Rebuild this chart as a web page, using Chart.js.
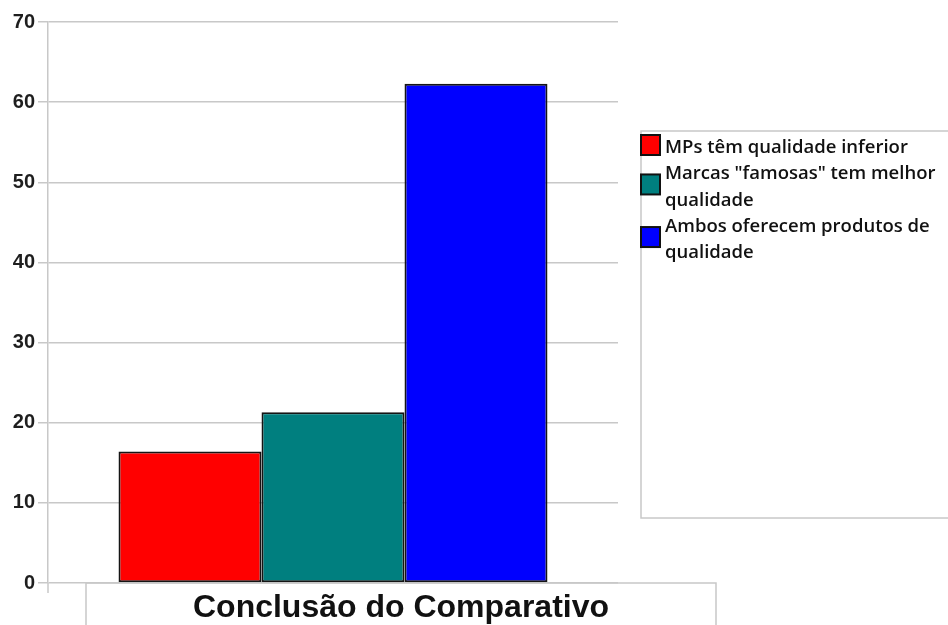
<!DOCTYPE html>
<html>
<head>
<meta charset="utf-8">
<script src="https://cdn.jsdelivr.net/npm/chart.js@4/dist/chart.umd.min.js"></script>
<style>
  html, body { margin: 0; padding: 0; background: #ffffff; }
  #wrap { width: 948px; height: 625px; position: relative; }
</style>
</head>
<body>
<div id="wrap"><canvas id="chart" width="948" height="625"></canvas></div>
<script>
// Category shown under the bars
const categories = ['Conclusão do Comparativo'];

// One series per answer
const seriesLabels = [
  'MPs têm qualidade inferior',
  'Marcas "famosas" tem melhor qualidade',
  'Ambos oferecem produtos de qualidade'
];
const seriesValues = [
  [16.4],
  [21.3],
  [62.3]
];
const seriesColors = ['#ff0000', '#007f7f', '#0000ff'];

// Value axis ticks
const yTicks = [0, 10, 20, 30, 40, 50, 60, 70];

const LEGEND_FONT = '600 18.5px "Open Sans"';

function wrapText(ctx, text, maxWidth) {
  const words = text.split(' ');
  const lines = [];
  let line = '';
  for (const w of words) {
    const test = line ? line + ' ' + w : w;
    if (ctx.measureText(test).width > maxWidth && line) {
      lines.push(line);
      line = w;
    } else {
      line = test;
    }
  }
  if (line) lines.push(line);
  return lines;
}

// Boxed category caption and side legend
const decorations = {
  id: 'decorations',
  afterDraw(chart) {
    const ctx = chart.ctx;
    const area = chart.chartArea;
    ctx.save();

    // small extension of the value axis below zero
    ctx.strokeStyle = '#c8c8c8';
    ctx.lineWidth = 1.5;
    ctx.beginPath();
    ctx.moveTo(area.left, area.bottom);
    ctx.lineTo(area.left, area.bottom + 10);
    ctx.stroke();

    // category caption box
    ctx.fillStyle = '#ffffff';
    ctx.fillRect(86, area.bottom + 1, 630, 50);
    ctx.strokeStyle = '#c8c8c8';
    ctx.lineWidth = 1.5;
    ctx.beginPath();
    ctx.moveTo(86, 640);
    ctx.lineTo(86, area.bottom);
    ctx.lineTo(716, area.bottom);
    ctx.lineTo(716, 640);
    ctx.stroke();
    ctx.fillStyle = '#111111';
    ctx.font = 'bold 32px "Liberation Sans"';
    ctx.textAlign = 'center';
    ctx.textBaseline = 'alphabetic';
    ctx.fillText(categories[0], 401, 617);

    // legend frame
    ctx.strokeStyle = '#c8c8c8';
    ctx.lineWidth = 1.5;
    ctx.strokeRect(641, 131, 330, 387);

    // legend entries
    ctx.font = LEGEND_FONT;
    ctx.textAlign = 'left';
    const lineH = 26.3;
    let baseline = 153;
    seriesLabels.forEach((label, i) => {
      const lines = wrapText(ctx, label, 292);
      const first = baseline;
      const last = baseline + (lines.length - 1) * lineH;
      const cy = (first + last) / 2 - 8;
      ctx.fillStyle = seriesColors[i];
      ctx.fillRect(641, cy - 10, 19, 20);
      ctx.strokeStyle = '#111111';
      ctx.lineWidth = 2;
      ctx.strokeRect(641, cy - 10, 19, 20);
      ctx.fillStyle = '#111111';
      lines.forEach((ln, k) => ctx.fillText(ln, 665, first + k * lineH));
      baseline = last + lineH;
    });

    ctx.restore();
  }
};

new Chart(document.getElementById('chart'), {
  type: 'bar',
  data: {
    labels: categories,
    datasets: seriesLabels.map((label, i) => ({
      label: label,
      data: seriesValues[i],
      backgroundColor: seriesColors[i],
      borderColor: '#151515',
      borderWidth: 2,
      borderSkipped: false
    }))
  },
  options: {
    responsive: false,
    animation: false,
    events: [],
    layout: { padding: { top: 22, right: 330, bottom: 42, left: 0 } },
    datasets: { bar: { barPercentage: 1, categoryPercentage: 0.7526 } },
    plugins: {
      legend: { display: false },
      tooltip: { enabled: false },
      title: { display: false }
    },
    scales: {
      x: { display: false },
      y: {
        min: yTicks[0],
        max: yTicks[yTicks.length - 1],
        afterBuildTicks(scale) { scale.ticks = yTicks.map(v => ({ value: v })); },
        afterFit(scale) { scale.width = 48; },
        ticks: {
          color: '#1e1e1e',
          padding: 3,
          font: { family: 'Liberation Sans', size: 20, weight: 'bold' }
        },
        grid: { color: '#c8c8c8', lineWidth: 1.5, tickLength: 10 },
        border: { color: '#c8c8c8', width: 1.5 }
      }
    }
  },
  plugins: [decorations]
});
</script>
</body>
</html>
